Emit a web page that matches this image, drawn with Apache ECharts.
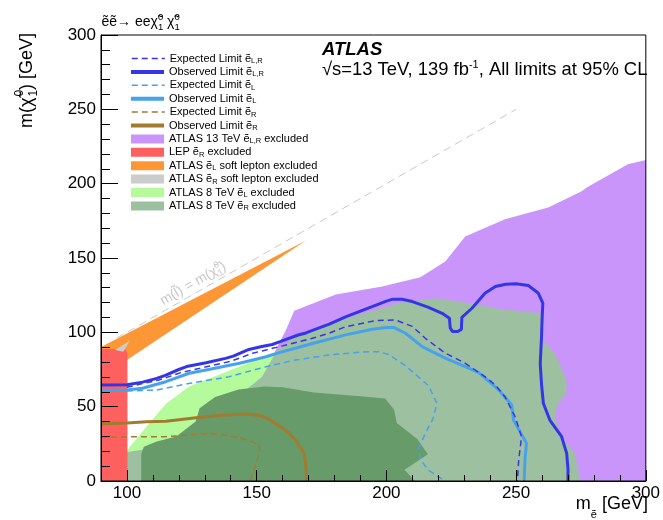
<!DOCTYPE html>
<html>
<head>
<meta charset="utf-8">
<script src="https://cdn.jsdelivr.net/npm/echarts@6/dist/echarts.min.js"></script>
<style>
  html, body { margin: 0; padding: 0; background: #fff; }
  #chart { width: 663px; height: 520px; }
</style>
</head>
<body>
<div id="chart"></div>
<script>
// ---------- exclusion regions, [m(slepton), m(neutralino)] in GeV ----------
const atlas13LR = [[157,87],[161.3,101.6],[164.5,114.6],[180.5,125.4],[198.4,130.8],[213.1,137],[222.7,147.6],[230.4,164.4],[245.7,176],[262.4,184],[275.1,194.7],[277.7,198],[293.1,213],[300,216],[300,0],[160,0],[155,60]];
const atlas8R = [[100,0],[100,20.5],[106,24],[130,45],[145,62],[157.5,87],[164,96],[174,103.8],[187,110.6],[206,120],[219,123],[232,119.6],[244.4,115.5],[259.5,112.8],[260,95],[264.9,86],[269.4,68],[269.4,59],[266.2,52.3],[264.9,43.3],[267.5,29.8],[272.6,18.6],[273.9,7.4],[274.5,0]];
const atlas8L = [[100,20.5],[107.5,36.5],[115,52],[124,63.5],[135.5,71.5],[148.5,80.5],[157.5,87],[152,70],[145,60],[130,40],[115,25],[106,21],[100,19.5]];
const atlas8Core = [[105.5,0],[105.5,18],[106.5,23],[111.5,26.5],[119,30],[126.5,40],[128,49],[134,56.5],[143,61.5],[153,63.5],[160,63],[172,59.5],[190,57],[199.5,55.5],[203,48],[204,39],[212,28],[216,18],[207,7.5],[211,0]];
const lepR = [[90,0],[100.2,0],[100.2,86.5],[99.3,88.5],[90,89]];
const softL = [[90,90.2],[169,161.7],[100,81.4],[90,78]];
const softR = [[95.4,88.2],[101.1,94.4],[98.6,87]];

// ---------- 95% CL limit contours ----------
const obsLR = [[90,64.5],[100,64.8],[106,66.5],[111.5,69],[115,71.2],[120,75],[123,77],[130.5,79.5],[138,82.5],[141,84],[147,88.5],[152,90.5],[156,91.8],[159,93.7],[166,98.2],[169,99.6],[172,101.6],[178,105.5],[184.5,110.6],[194.5,117.3],[200,121],[202.5,122.3],[206,122.3],[210,120.7],[216,117],[221.5,112.8],[224.3,109.5],[224.6,103],[225.5,100.5],[227.5,100.5],[228.9,102],[229.1,110],[233,116.2],[238,126.3],[242,130.8],[246,132.3],[250,132.7],[254.7,131.5],[258.5,126.5],[260.3,119.6],[260,108],[259.8,97],[259.3,79],[259.8,65],[260.5,52.3],[263,41],[267.5,30],[269.5,18.6],[270,8],[270,0]];
const expLR = [[100,63],[106,65.5],[112.5,68],[121,73],[131,77],[140,80.5],[148.5,86],[154,88.3],[159,90.5],[171.5,96],[178,99.5],[184.3,103.8],[195.8,107.9],[203.5,108.3],[210,104],[215,96],[222.7,86],[230.4,79.2],[238,70.2],[242,64.6],[245.7,56.7],[249.6,43.3],[252.1,29.8],[251,14],[250.5,0]];
const obsL = [[90,60.8],[100,61.2],[106,62.4],[115,66.8],[124,72.5],[132,75.2],[143.4,79.2],[153.6,83.6],[159,86.5],[166,89.8],[171.5,92.5],[184.3,98.3],[194.5,102.1],[200,103.2],[203,103.2],[207.4,99.4],[213.8,90.4],[222.7,82.6],[235.5,73],[243.2,61.5],[248.3,51.1],[249,41],[254,25.4],[253.4,14],[253.1,0]];
const expL = [[100,60.5],[111.4,61.2],[124.2,65.7],[139.5,70.2],[153.6,76.9],[165,81.4],[178,84.8],[190.7,86.8],[197,87],[201,85],[207.4,77.5],[212,70.5],[216.3,64],[219.5,52],[218,42],[215,32],[212.5,22],[213,15],[216,7.5],[222.7,0]];
const obsR = [[90,38.5],[100,39],[107.5,39.8],[115,40.2],[126.7,42.5],[136,44.2],[145.9,45.1],[151,44.2],[155,41.5],[158.7,37],[162,33],[165,27.6],[168.3,18.6],[169,9.6],[169.2,0]];
const expR = [[90,29.5],[107.5,29.8],[115,29.8],[126.7,31.3],[132,31.6],[137,31.2],[143.4,29],[148,26.5],[151,24],[151.2,20.9],[149.8,12],[147.5,0]];
const massDiagonal = [[96,96],[250,250]];

// ---------- axis ticks ----------
const xMajorTicks = [100, 150, 200, 250, 300];

const FONT = '"Liberation Sans", Arial, Helvetica, sans-serif';
const C = {
  purple: '#c995fb', mint: '#9dc1a0', lime: '#b5fb9c', core: '#679b6a',
  red: '#fe5f5f', orange: '#fd9735', gray: '#cccccc',
  navy: '#3535e8', sky: '#47a2ec', brown: '#a27b2e', diag: '#c8c8c8'
};

function area(name, pts, color) {
  return {
    type: 'custom', name, coordinateSystem: 'cartesian2d', data: pts,
    encode: { x: 0, y: 1 }, itemStyle: { color }, clip: true, silent: true,
    renderItem(params, api) {
      if (params.dataIndex !== 0) return null;
      return { type: 'polygon', shape: { points: pts.map(p => api.coord(p)) }, style: { fill: color } };
    }
  };
}
function limit(name, pts, color, width, dashed) {
  return {
    type: 'line', name, data: pts, symbol: 'none', showSymbol: false, z: 4, silent: true,
    itemStyle: { color },
    lineStyle: { color, width, type: dashed ? [6, 4] : 'solid', cap: 'butt' }
  };
}

const ENTRIES = [
  { name: 'Expected Limit ẽL,R', label: 'Expected Limit ẽ{s|L,R}', lw: 1.5 },
  { name: 'Observed Limit ẽL,R', label: 'Observed Limit ẽ{s|L,R}', lw: 4 },
  { name: 'Expected Limit ẽL', label: 'Expected Limit ẽ{s|L}', lw: 1.5 },
  { name: 'Observed Limit ẽL', label: 'Observed Limit ẽ{s|L}', lw: 4 },
  { name: 'Expected Limit ẽR', label: 'Expected Limit ẽ{s|R}', lw: 1.5 },
  { name: 'Observed Limit ẽR', label: 'Observed Limit ẽ{s|R}', lw: 4 },
  { name: 'ATLAS 13 TeV ẽL,R excluded', label: 'ATLAS 13 TeV ẽ{s|L,R} excluded', rect: true },
  { name: 'LEP ẽR excluded', label: 'LEP ẽ{s|R} excluded', rect: true },
  { name: 'ATLAS ẽL soft lepton excluded', label: 'ATLAS ẽ{s|L} soft lepton excluded', rect: true },
  { name: 'ATLAS ẽR soft lepton excluded', label: 'ATLAS ẽ{s|R} soft lepton excluded', rect: true },
  { name: 'ATLAS 8 TeV ẽL excluded', label: 'ATLAS 8 TeV ẽ{s|L} excluded', rect: true },
  { name: 'ATLAS 8 TeV ẽR excluded', label: 'ATLAS 8 TeV ẽ{s|R} excluded', rect: true }
];

const series = [
  area('ATLAS 13 TeV ẽL,R excluded', atlas13LR, C.purple),
  area('ATLAS 8 TeV ẽR excluded', atlas8R, C.mint),
  area('ATLAS 8 TeV ẽL excluded', atlas8L, C.lime),
  area('8 TeV overlap', atlas8Core, C.core),
  area('ATLAS ẽL soft lepton excluded', softL, C.orange),
  area('LEP ẽR excluded', lepR, C.red),
  area('ATLAS ẽR soft lepton excluded', softR, C.gray),
  { type: 'line', name: 'diagonal', data: massDiagonal, symbol: 'none', z: 3, silent: true,
    lineStyle: { color: C.diag, width: 1, type: [8, 5] } },
  limit('Expected Limit ẽR', expR, C.brown, 1.5, true),
  limit('Observed Limit ẽR', obsR, C.brown, 3, false),
  limit('Observed Limit ẽL', obsL, C.sky, 3, false),
  limit('Expected Limit ẽL', expL, C.sky, 1.5, true),
  limit('Observed Limit ẽL,R', obsLR, C.navy, 3, false),
  limit('Expected Limit ẽL,R', expLR, C.navy, 1.5, true)
];

const legendText = {
  fontFamily: FONT, fontSize: 11, color: '#000', lineHeight: 13,
  rich: { s: { fontFamily: FONT, fontSize: 7.5, color: '#000', verticalAlign: 'bottom', lineHeight: 6 } }
};

const option = {
  animation: false,
  textStyle: { fontFamily: FONT },
  grid: { left: 101, right: 15, top: 35, bottom: 39, show: true, borderColor: '#000', borderWidth: 1, z: 10 },
  xAxis: [
    { type: 'value', min: 90, max: 300, interval: 10, position: 'bottom', z: 10,
      axisLine: { show: true, onZero: false, lineStyle: { color: '#000', width: 1 } },
      axisTick: { show: true, inside: true, length: 6, lineStyle: { color: '#000' } },
      axisLabel: { show: true, customValues: xMajorTicks, fontFamily: FONT, fontSize: 17, color: '#000', margin: 4 },
      splitLine: { show: false } },
    { type: 'value', min: 90, max: 300, position: 'bottom', z: 10,
      axisLine: { show: false, onZero: false },
      axisTick: { show: true, inside: true, length: 11, customValues: xMajorTicks, lineStyle: { color: '#000' } },
      axisLabel: { show: false }, splitLine: { show: false } }
  ],
  yAxis: {
    type: 'value', min: 0, max: 300, interval: 50, z: 10,
    axisLine: { show: true, onZero: false, lineStyle: { color: '#000', width: 1 } },
    axisTick: { show: true, inside: true, length: 17, lineStyle: { color: '#000' } },
    minorTick: { show: true, splitNumber: 5, length: 9, lineStyle: { color: '#000' } },
    axisLabel: { fontFamily: FONT, fontSize: 17, color: '#000', margin: 5 },
    splitLine: { show: false }, minorSplitLine: { show: false }
  },
  legend: ENTRIES.map((e, i) => ({
    data: [e.rect ? { name: e.name, icon: 'rect' } : { name: e.name }],
    left: e.lw > 2 ? 129 : 131, top: 52 + i * 13.4, orient: 'vertical', padding: 0, itemGap: 0,
    itemWidth: 33, itemHeight: 9, selectedMode: false,
    itemStyle: e.rect ? {} : { opacity: 0 },
    lineStyle: e.rect ? {} : { width: e.lw },
    formatter: () => e.label,
    textStyle: legendText
  })),
  series
};

const chart = echarts.init(document.getElementById('chart'), null, { renderer: 'canvas' });
chart.setOption(option);

// ---------- text annotations built from runs of plain / sub / superscript text ----------
const mctx = document.createElement('canvas').getContext('2d');
function textWidth(t, size, style) {
  mctx.font = (style || '') + ' ' + size + 'px ' + FONT;
  return mctx.measureText(t).width;
}
function textRun(parts, opts) {
  opts = opts || {};
  let x = opts.x0 || 0;
  const kids = [];
  for (const p of parts) {
    const items = p.stack || [p];
    let w = 0;
    for (const it of items) {
      const font = (opts.style || '') + ' ' + it.s + 'px ' + FONT;
      kids.push({
        type: 'text', x: x + (it.dx || 0), y: (opts.y0 || 0) + (it.dy || 0) - 0.31 * it.s, silent: true,
        style: { text: it.t, font, fill: opts.color || '#000', align: 'left', verticalAlign: 'middle',
                 textAlign: 'left', textVerticalAlign: 'middle' }
      });
      w = Math.max(w, textWidth(it.t, it.s, opts.style) + (it.dx || 0));
    }
    x += w;
  }
  return { kids, width: x - (opts.x0 || 0) };
}

const chiStack = (s, up, down, dx) => ({ stack: [{ t: '0', s, dy: -up, dx: dx || 0 }, { t: '1', s, dy: down, dx: dx || 0 }] });

const title = textRun([{ t: 'ẽẽ→ ee', s: 14 }, { t: 'χ̃', s: 14 }, chiStack(9.5, 6, 3.5),
                       { t: ' ', s: 14 }, { t: 'χ̃', s: 14 }, chiStack(9.5, 6, 3.5)]);
const yName = textRun([{ t: 'm(', s: 18 }, { t: 'χ̃', s: 18 }, chiStack(12, 10, 4, 1), { t: ') [GeV]', s: 18 }]);
const xName = textRun([{ t: 'm', s: 18 }, { t: 'ẽ', s: 11, dy: 8 }, { t: ' [GeV]', s: 18 }]);
const energy = textRun([{ t: '√s=13 TeV, 139 fb', s: 18.4 }, { t: '-1', s: 11, dy: -7 },
                        { t: ', All limits at 95% CL', s: 18.4 }]);
const diagText = textRun([{ t: 'm(l̃) = m(', s: 14 }, { t: 'χ̃', s: 14 }, chiStack(9, 6, 3), { t: ')', s: 14 }],
                         { x0: 3, y0: -5, color: C.diag });

const pA = chart.convertToPixel({ xAxisIndex: 0, yAxisIndex: 0 }, massDiagonal[0]);
const pB = chart.convertToPixel({ xAxisIndex: 0, yAxisIndex: 0 }, massDiagonal[1]);
const angle = Math.atan2(pA[1] - pB[1], pB[0] - pA[0]);
const anchor = chart.convertToPixel({ xAxisIndex: 0, yAxisIndex: 0 }, [114, 114]);

chart.setOption({
  graphic: [
    { type: 'group', x: 101.5, y: 26.5, z: 20, children: title.kids },
    { type: 'group', x: 33, y: 128, rotation: Math.PI / 2, z: 20, children: yName.kids },
    { type: 'group', x: 648 - xName.width, y: 510, z: 20, children: xName.kids },
    { type: 'group', x: 322, y: 55.5, z: 20,
      children: textRun([{ t: 'ATLAS', s: 18.5 }], { style: 'italic bold' }).kids },
    { type: 'group', x: 322, y: 75.5, z: 20, children: energy.kids },
    { type: 'group', x: anchor[0], y: anchor[1], rotation: angle, z: 6, children: diagText.kids }
  ]
});
</script>
</body>
</html>
